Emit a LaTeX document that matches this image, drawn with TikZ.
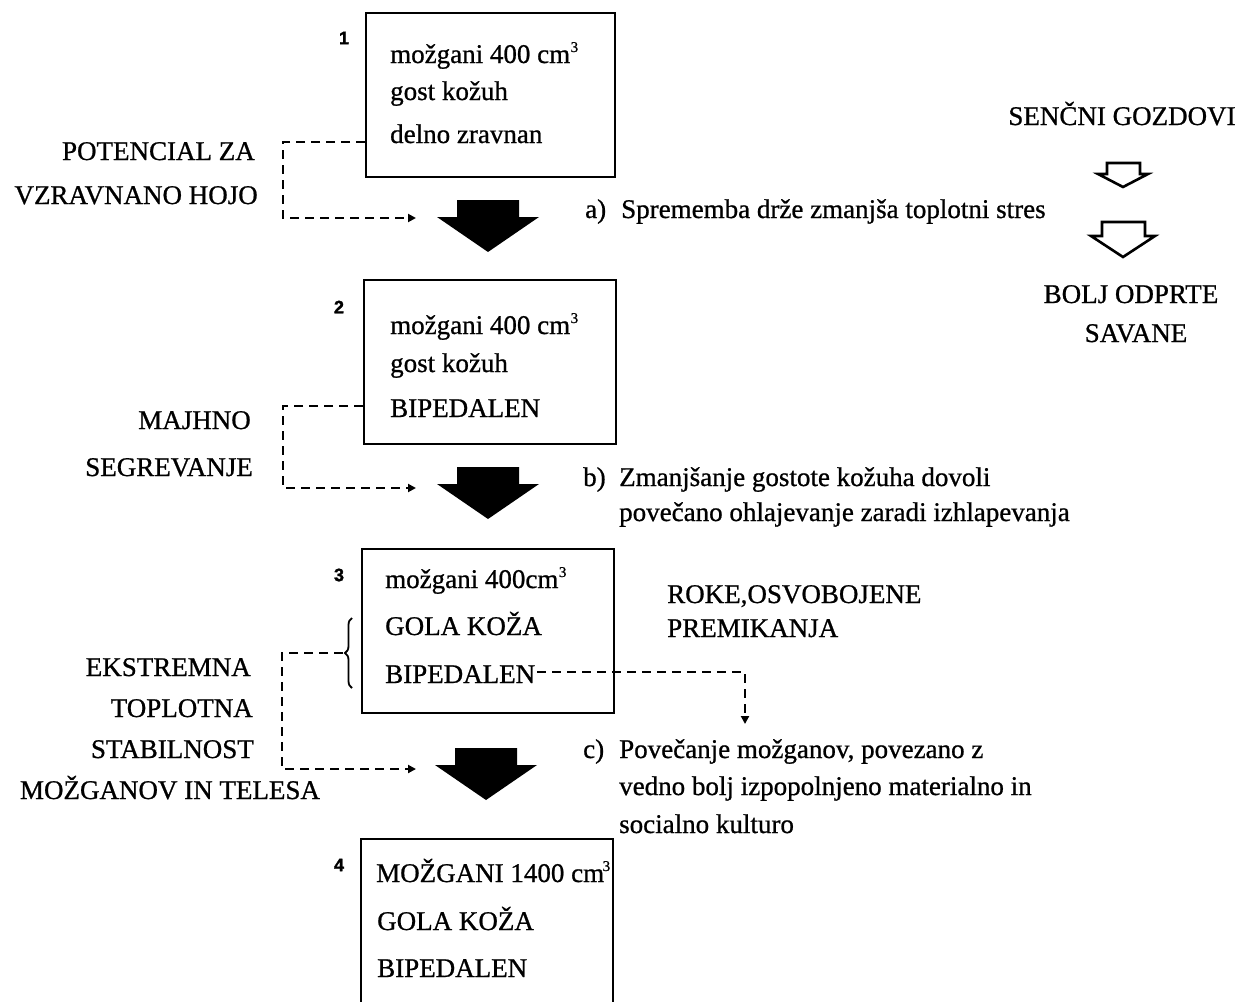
\documentclass[tikz,border=0pt]{standalone}
\usepackage{fontspec}
\setmainfont{Liberation Serif}[FakeBold=0.8]
\newfontfamily\numfont{Liberation Sans}[FakeBold=1.5]
\usetikzlibrary{arrows.meta,decorations.pathreplacing}
\newcommand\cubesup{\kern0.5pt\raisebox{11pt}{\fontsize{15}{15}\selectfont 3}}
\begin{document}
\begin{tikzpicture}[x=1pt,y=-1pt,
  box/.style={draw, line width=2.2pt, anchor=north west, inner sep=0pt},
  txt/.style={font=\fontsize{27}{32}\selectfont, inner sep=0pt, anchor=base west},
  txtr/.style={txt, anchor=base east},
  txtc/.style={txt, anchor=base},
  num/.style={font=\numfont\bfseries\fontsize{18}{20}\selectfont, inner sep=0pt},
  dashcon/.style={line width=2.2pt, dash pattern=on 9pt off 6pt, -{Triangle[length=8pt,width=8pt]}},
  fatarr/.pic={\fill[black] (-31,0) -- (31,0) -- (31,17) -- (51,17) -- (0,52) -- (-51,17) -- (-31,17) -- cycle;},
  hollow/.style={draw, line width=2.6pt, line join=miter}
]
\fill[white] (0,0) rectangle (1247,1001);
\useasboundingbox (0,0) rectangle (1247,1001);

% boxes
\node[box, minimum width=249pt, minimum height=164pt] (box1) at (365,12) {};
\node[box, minimum width=252pt, minimum height=164pt] (box2) at (363,279) {};
\node[box, minimum width=252pt, minimum height=164pt] (box3) at (361,548) {};
\node[box, minimum width=252pt, minimum height=200pt] (box4) at (360,838) {};

% numbers
\node[num] (n1) at (344,38) {1};
\node[num] (n2) at (339,307) {2};
\node[num] (n3) at (339,575) {3};
\node[num] (n4) at (339,865) {4};

% box texts
\node[txt] (t11) at (390,63) {možgani 400 cm\cubesup};
\node[txt] (t12) at (390,100) {gost kožuh};
\node[txt] (t13) at (390,143) {delno zravnan};

\node[txt] (t21) at (390,334) {možgani 400 cm\cubesup};
\node[txt] (t22) at (390,372) {gost kožuh};
\node[txt] (t23) at (390,417) {BIPEDALEN};

\node[txt] (t31) at (385,588) {možgani 400cm\cubesup};
\node[txt] (t32) at (385,635) {GOLA KOŽA};
\node[txt] (t33) at (385,683) {BIPEDALEN};

\node[txt] (t41) at (376,882) {MOŽGANI 1400 cm\kern-2pt\cubesup};
\node[txt] (t42) at (377,930) {GOLA KOŽA};
\node[txt] (t43) at (377,977) {BIPEDALEN};

% left labels
\node[txtr] (l11) at (255,160) {POTENCIAL ZA};
\node[txtr] (l12) at (258,204) {VZRAVNANO HOJO};
\node[txtr] (l21) at (251,429) {MAJHNO};
\node[txtr] (l22) at (253,476) {SEGREVANJE};
\node[txtr] (l31) at (251,676) {EKSTREMNA};
\node[txtr] (l32) at (253,717) {TOPLOTNA};
\node[txtr] (l33) at (254,758) {STABILNOST};
\node[txtc] (l34) at (170,799) {MOŽGANOV IN TELESA};

% right labels
\node[txt] (ra) at (585,218) {a)};
\node[txt] (ra1) at (621,218) {Sprememba drže zmanjša toplotni stres};
\node[txt] (rb) at (583,486) {b)};
\node[txt] (rb1) at (619,486) {Zmanjšanje gostote kožuha dovoli};
\node[txt] (rb2) at (619,521) {povečano ohlajevanje zaradi izhlapevanja};
\node[txt] (rc) at (583,758) {c)};
\node[txt] (rc1) at (619,758) {Povečanje možganov, povezano z};
\node[txt] (rc2) at (619,795) {vedno bolj izpopolnjeno materialno in};
\node[txt] (rc3) at (619,833) {socialno kulturo};
\node[txt] (rk1) at (667,603) {ROKE,OSVOBOJENE};
\node[txt] (rk2) at (667,637) {PREMIKANJA};

\node[txtc] (s1) at (1122,125) {SENČNI GOZDOVI};
\node[txtc] (s2) at (1131,303) {BOLJ ODPRTE};
\node[txtc] (s3) at (1136,342) {SAVANE};

% fat arrows
\pic (fa) at (488,200) {fatarr};
\pic (fb) at (488,467) {fatarr};
\pic (fc) at (486,748) {fatarr};

% hollow arrows
\draw[hollow] (1107,163) -- (1140,163) -- (1140,174) -- (1148,174) -- (1123,187) -- (1098,174) -- (1107,174) -- cycle;
\draw[hollow] (1102,222) -- (1145,222) -- (1145,236) -- (1155,236) -- (1123,257) -- (1091,236) -- (1102,236) -- cycle;

% dashed connectors
\coordinate (d1s) at (box1.west |- 0,142);
\coordinate (d1c) at (283,218);
\coordinate (d1e) at (416,218);
\draw[dashcon] (d1s) -| (d1c) -- (d1e);

\coordinate (d2s) at (box2.west |- 0,406);
\coordinate (d2c) at (283,488);
\coordinate (d2e) at (416,488);
\draw[dashcon] (d2s) -| (d2c) -- (d2e);

\coordinate (br1) at (352,688);
\coordinate (br2) at (352,618);
\draw[decorate, decoration={brace, amplitude=7pt}, line width=1.8pt] (br1) -- (br2);
\coordinate (d3s) at (343,653);
\coordinate (d3c) at (282,769);
\coordinate (d3e) at (416,769);
\draw[dashcon] (d3s) -| (d3c) -- (d3e);

\coordinate (d4s) at (t33.base east |- 0,672);
\coordinate (d4c) at (745,672);
\coordinate (d4e) at (745,724);
\draw[dashcon] ([xshift=2pt]d4s) -- (d4c) -- (d4e);
\end{tikzpicture}
\end{document}
